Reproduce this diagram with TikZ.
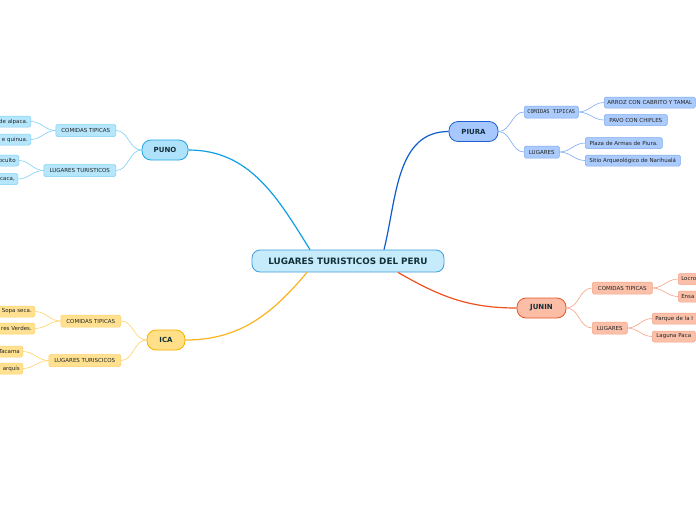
\documentclass[tikz,border=0pt]{standalone}
\usepackage{fontspec}
\setmainfont{DejaVu Sans}
\newfontfamily\monofnt{DejaVu Sans Mono}
\usetikzlibrary{calc}
\definecolor{txt}{HTML}{12303A}
\definecolor{ltxt}{HTML}{222222}
\definecolor{cfill}{HTML}{C6EBFB}
\definecolor{cdraw}{HTML}{3E9DDB}
\definecolor{puF}{HTML}{AEE2FA}\definecolor{puD}{HTML}{1FA5E6}\definecolor{puL}{HTML}{0DA0E3}
\definecolor{puSF}{HTML}{B5E6FC}\definecolor{puSD}{HTML}{7FD0F5}
\definecolor{piF}{HTML}{A6C8FF}\definecolor{piD}{HTML}{1F5FCF}\definecolor{piL}{HTML}{0F5CD0}
\definecolor{piSF}{HTML}{ABCBFC}\definecolor{piSD}{HTML}{7DA9F0}
\definecolor{icF}{HTML}{FFDF87}\definecolor{icD}{HTML}{F2B200}\definecolor{icL}{HTML}{F9B51E}
\definecolor{icSF}{HTML}{FFE191}\definecolor{icSD}{HTML}{FFD266}
\definecolor{juF}{HTML}{FBBDA6}\definecolor{juD}{HTML}{E8562A}\definecolor{juL}{HTML}{F0521F}
\definecolor{juSF}{HTML}{FBC0A9}\definecolor{juSD}{HTML}{F7A386}
\tikzset{
  central/.style={draw=cdraw, fill=cfill, line width=0.8pt, rounded corners=8pt, minimum width=192pt, minimum height=22pt, inner sep=0pt, text=txt, font=\fontsize{8.8}{10}\selectfont\bfseries},
  topic/.style={line width=0.8pt, rounded corners=9pt, minimum height=20pt, inner sep=0pt, text=txt, font=\fontsize{7}{8}\selectfont\bfseries},
  subt/.style={line width=0.5pt, rounded corners=1.5pt, minimum height=12pt, inner xsep=3pt, inner ysep=0pt, text=ltxt, font=\fontsize{5.5}{6.5}\selectfont},
  leaf/.style={subt, minimum height=11pt},
  mainline/.style={line width=1.2pt},
  subline/.style={line width=0.6pt},
}
\begin{document}
\begin{tikzpicture}[x=1pt,y=-1pt]
\useasboundingbox (0,0) rectangle (696,520);
\clip (0,0) rectangle (696,520);
\fill[white] (0,0) rectangle (696,520);

% central
\node[central] (c) at (348,261) {LUGARES TURISTICOS DEL PERU};

% main topics
\node[topic, draw=puD, fill=puF, minimum width=46pt] (puno) at (165,150) {PUNO};
\node[topic, draw=piD, fill=piF, minimum width=49pt] (piura) at (473.5,131.5) {PIURA};
\node[topic, draw=icD, fill=icF, minimum width=38pt] (ica) at (166,340) {ICA};
\node[topic, draw=juD, fill=juF, minimum width=49pt] (junin) at (541.5,308) {JUNIN};

\draw[mainline, puL] ([xshift=-38pt]c.north) to[out=122,in=0] (puno.east);
\draw[mainline, piL] ([xshift=36pt]c.north) to[out=76,in=180] (piura.west);
\draw[mainline, icL] ([xshift=-41pt]c.south) to[out=-130,in=0] (ica.east);
\draw[mainline, juL] ([xshift=50pt]c.south) to[out=-30,in=180] (junin.west);

% PUNO
\begin{scope}[every node/.append style={draw=puSD, fill=puSF}]
\node[subt, anchor=east, minimum width=60pt] (pu1) at (116,130.5) {COMIDAS TIPICAS};
\node[subt, anchor=east, minimum width=72pt] (pu2) at (116,170.5) {LUGARES TURISTICOS};
\node[leaf, anchor=east, text width=50pt, align=right] (pu11) at (31,121.5) {de alpaca.};
\node[leaf, anchor=east, text width=50pt, align=right] (pu12) at (31,139.5) {e quinua.};
\node[leaf, anchor=east, text width=40pt, align=right] (pu21) at (19,160.5) {oculto};
\node[leaf, anchor=east, text width=40pt, align=right] (pu22) at (18,179) {icaca,};
\end{scope}
\begin{scope}[subline, puSD]
\draw (puno.west) to[out=180,in=0] (pu1.east);
\draw (puno.west) to[out=180,in=0] (pu2.east);
\draw (pu1.west) to[out=180,in=0] (pu11.east);
\draw (pu1.west) to[out=180,in=0] (pu12.east);
\draw (pu2.west) to[out=180,in=0] (pu21.east);
\draw (pu2.west) to[out=180,in=0] (pu22.east);
\end{scope}

% PIURA
\begin{scope}[every node/.append style={draw=piSD, fill=piSF}]
\node[subt, anchor=west, minimum width=54pt, font=\fontsize{5.3}{6}\monofnt] (pi1) at (524,112) {COMIDAS~TIPICAS};
\node[subt, anchor=west, minimum width=35pt] (pi2) at (524,152) {LUGARES};
\node[leaf, anchor=west, minimum width=91pt] (pi11) at (604,102.5) {ARROZ CON CABRITO Y TAMAL};
\node[leaf, anchor=west, minimum width=63pt] (pi12) at (604,120) {PAVO CON CHIFLES};
\node[leaf, anchor=west, minimum width=77pt] (pi21) at (585,143) {Plaza de Armas de Piura.};
\node[leaf, anchor=west, minimum width=95pt] (pi22) at (585,160.5) {Sitio Arqueológico de Narihualá};
\end{scope}
\begin{scope}[subline, piSD]
\draw (piura.east) to[out=0,in=180] (pi1.west);
\draw (piura.east) to[out=0,in=180] (pi2.west);
\draw (pi1.east) to[out=0,in=180] (pi11.west);
\draw (pi1.east) to[out=0,in=180] (pi12.west);
\draw (pi2.east) to[out=0,in=180] (pi21.west);
\draw (pi2.east) to[out=0,in=180] (pi22.west);
\end{scope}

% ICA
\begin{scope}[every node/.append style={draw=icSD, fill=icSF}]
\node[subt, anchor=east, minimum width=60pt] (ic1) at (121,321) {COMIDAS TIPICAS};
\node[subt, anchor=east, minimum width=72pt] (ic2) at (121,360.5) {LUGARES TURISCICOS};
\node[leaf, anchor=east, text width=50pt, align=right] (ic11) at (35,311.5) {Sopa seca.};
\node[leaf, anchor=east, text width=50pt, align=right] (ic12) at (35,328.5) {res Verdes.};
\node[leaf, anchor=east, text width=40pt, align=right] (ic21) at (23,351.5) {Tacama};
\node[leaf, anchor=east, text width=40pt, align=right] (ic22) at (23,368.5) {arquís};
\end{scope}
\begin{scope}[subline, icSD]
\draw (ica.west) to[out=180,in=0] (ic1.east);
\draw (ica.west) to[out=180,in=0] (ic2.east);
\draw (ic1.west) to[out=180,in=0] (ic11.east);
\draw (ic1.west) to[out=180,in=0] (ic12.east);
\draw (ic2.west) to[out=180,in=0] (ic21.east);
\draw (ic2.west) to[out=180,in=0] (ic22.east);
\end{scope}

% JUNIN
\begin{scope}[every node/.append style={draw=juSD, fill=juSF}]
\node[subt, anchor=west, minimum width=60pt] (ju1) at (592,288) {COMIDAS TIPICAS};
\node[subt, anchor=west, minimum width=35pt] (ju2) at (592,328) {LUGARES};
\node[leaf, anchor=west, text width=40pt, align=left] (ju11) at (678,279) {Locro};
\node[leaf, anchor=west, text width=40pt, align=left] (ju12) at (678,296.5) {Ensa};
\node[leaf, anchor=west, text width=60pt, align=left] (ju21) at (652,318.5) {Parque de la I};
\node[leaf, anchor=west, minimum width=43pt] (ju22) at (652,336.5) {Laguna Paca};
\end{scope}
\begin{scope}[subline, juSD]
\draw (junin.east) to[out=0,in=180] (ju1.west);
\draw (junin.east) to[out=0,in=180] (ju2.west);
\draw (ju1.east) to[out=0,in=180] (ju11.west);
\draw (ju1.east) to[out=0,in=180] (ju12.west);
\draw (ju2.east) to[out=0,in=180] (ju21.west);
\draw (ju2.east) to[out=0,in=180] (ju22.west);
\end{scope}
\end{tikzpicture}
\end{document}
